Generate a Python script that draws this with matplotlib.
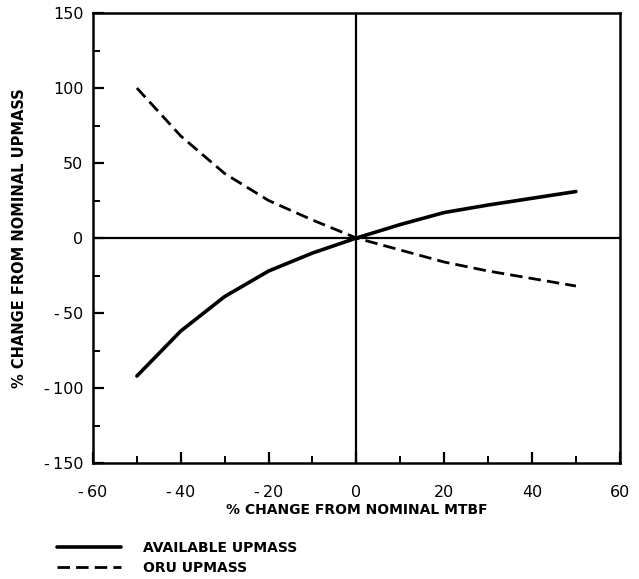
import matplotlib.pyplot as plt
import numpy as np

# % change from nominal MTBF
mtbf_change = [-50, -40, -30, -20, -10, 0, 10, 20, 30, 40, 50]
# curves
available_upmass = [-92, -62, -39, -22, -10, 0, 9, 17, 22, 26.5, 31]
oru_upmass = [100, 68, 43, 25, 12, 0, -8, -16, -22, -27, -32]

x_ticks = [-60, -40, -20, 0, 20, 40, 60]
y_ticks = [-150, -100, -50, 0, 50, 100, 150]


def fmt(v):
    # typewriter style minus with a small gap
    return '-\u2009' + str(-v) if v < 0 else str(v)


fig = plt.figure(figsize=(6.39, 5.79), dpi=100)
ax = fig.add_axes([0.1455, 0.2003, 0.8245, 0.7772])

ax.plot(mtbf_change, available_upmass, color='black', lw=2.6,
        solid_capstyle='round', label='AVAILABLE UPMASS')
ax.plot(mtbf_change, oru_upmass, color='black', lw=2.0,
        dashes=(4.5, 2.2), label='ORU UPMASS')

# axes crossing at the centre
ax.axhline(0, color='black', lw=1.6, zorder=1)
ax.axvline(0, color='black', lw=1.6, zorder=1)

ax.set_xlim(-60, 60)
ax.set_ylim(-150, 150)
ax.set_xticks(x_ticks)
ax.set_yticks(y_ticks)
ax.set_xticks(np.arange(-50, 60, 10), minor=True)
ax.set_yticks(np.arange(-125, 150, 25), minor=True)
ax.set_xticklabels([fmt(v) for v in x_ticks])
ax.set_yticklabels([fmt(v) for v in y_ticks])

for s in ax.spines.values():
    s.set_linewidth(1.8)

ax.tick_params(axis='both', which='major', direction='in', length=8, width=1.6,
               labelsize=11.5)
ax.tick_params(axis='both', which='minor', direction='in', length=5, width=1.4)
ax.tick_params(axis='x', which='major', pad=16)
ax.tick_params(axis='y', which='major', pad=7)

ax.set_xlabel('% CHANGE FROM NOMINAL MTBF', fontsize=10, fontweight='bold',
              labelpad=2)
ax.set_ylabel('% CHANGE FROM NOMINAL UPMASS', fontsize=10.5, fontweight='bold',
              labelpad=12)

fig.legend(loc='upper left', bbox_to_anchor=(0.07, 0.087), frameon=False,
           handlelength=4.6, handletextpad=1.6, labelspacing=0.4,
           prop={'size': 10, 'weight': 'bold'})

fig.savefig('out.png', dpi=100)
